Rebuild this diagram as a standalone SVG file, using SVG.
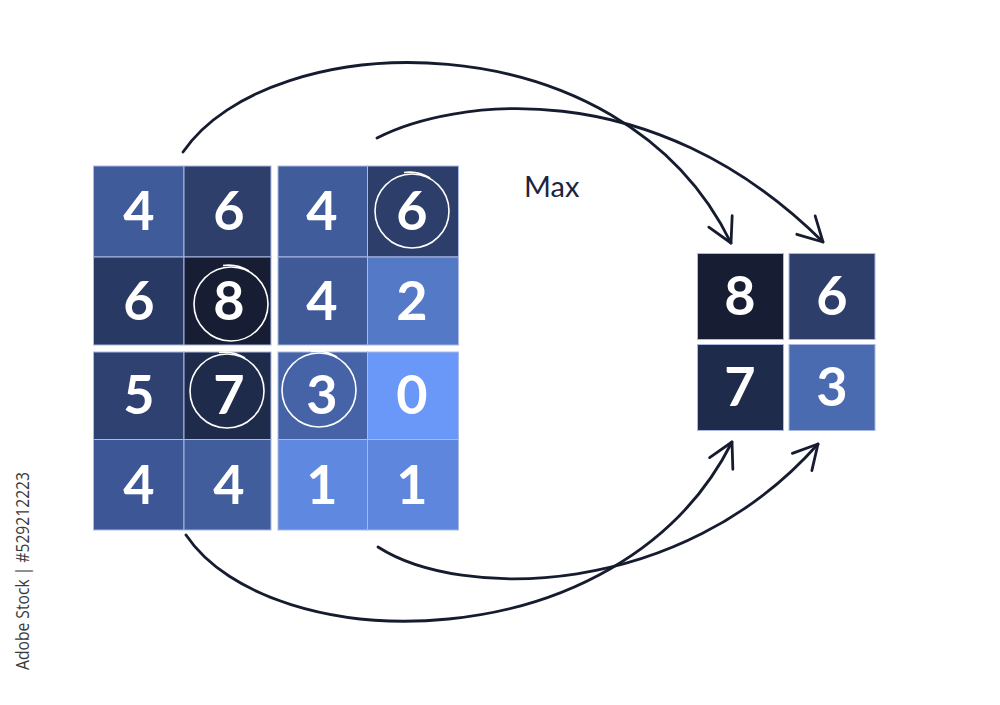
<svg xmlns="http://www.w3.org/2000/svg" width="1000" height="705" viewBox="0 0 1000 705">
<style>
.cell{stroke:#a9b9e3;stroke-width:1}
.num{font-family:Lato,"Open Sans",sans-serif;font-weight:700;font-size:54px;fill:#ffffff;text-anchor:middle}
.ring{fill:none;stroke:#ffffff;stroke-width:1.6}
.arrow{fill:none;stroke:#161c30;stroke-width:2.8;stroke-linecap:round}
.label{font-family:Lato,"Open Sans",sans-serif;font-size:29px;fill:#1c2440}
.wm{font-family:"Open Sans","DejaVu Sans",sans-serif;font-size:18.5px;fill:#3a3a3a}
</style>
<defs>
<marker id="head" viewBox="-30 -15 32 30" markerWidth="32" markerHeight="30" refX="0" refY="0" orient="auto" markerUnits="userSpaceOnUse">
<path d="M-24,-13 L0,0 L-24,13" fill="none" stroke="#161c30" stroke-width="2.8" stroke-linecap="round" stroke-linejoin="round"/>
</marker>
<g id="ring">
<circle r="37" class="ring"/>
<path d="M-8,-38.5 A39,39 0 0 1 18,-33" class="ring"/>
</g>
</defs>
<rect width="1000" height="705" fill="#ffffff"/>

<g id="input-grid">
<g id="c00"><rect class="cell" x="93.5" y="166" width="90.5" height="91" fill="#405b9a"/><text class="num" x="139" y="230">4</text></g>
<g id="c01"><rect class="cell" x="184" y="166" width="87" height="91" fill="#2d3f6a"/><text class="num" x="229" y="230">6</text></g>
<g id="c02"><rect class="cell" x="278" y="166" width="89.5" height="91" fill="#415c9b"/><text class="num" x="322" y="230">4</text></g>
<g id="c03"><rect class="cell" x="367.5" y="166" width="91" height="91" fill="#2c3e69"/><text class="num" x="412" y="230">6</text></g>

<g id="c10"><rect class="cell" x="93.5" y="257" width="90.5" height="88" fill="#283a63"/><text class="num" x="139" y="320">6</text></g>
<g id="c11"><rect class="cell" x="184" y="257" width="87" height="88" fill="#171e33"/><text class="num" x="229" y="320">8</text></g>
<g id="c12"><rect class="cell" x="278" y="257" width="89.5" height="88" fill="#405a97"/><text class="num" x="322" y="320">4</text></g>
<g id="c13"><rect class="cell" x="367.5" y="257" width="91" height="88" fill="#5379c7"/><text class="num" x="412" y="320">2</text></g>

<g id="c20"><rect class="cell" x="93.5" y="352" width="90.5" height="87.5" fill="#2e4170"/><text class="num" x="139" y="414">5</text></g>
<g id="c21"><rect class="cell" x="184" y="352" width="87" height="87.5" fill="#1f2b4a"/><text class="num" x="229" y="414">7</text></g>
<g id="c22"><rect class="cell" x="278" y="352" width="89.5" height="87.5" fill="#4563a6"/><text class="num" x="322" y="414">3</text></g>
<g id="c23"><rect class="cell" x="367.5" y="352" width="91" height="87.5" fill="#6a98f8"/><text class="num" x="412" y="414">0</text></g>

<g id="c30"><rect class="cell" x="93.5" y="439.5" width="90.5" height="90.5" fill="#3c5696"/><text class="num" x="139" y="504">4</text></g>
<g id="c31"><rect class="cell" x="184" y="439.5" width="87" height="90.5" fill="#415d9c"/><text class="num" x="229" y="504">4</text></g>
<g id="c32"><rect class="cell" x="278" y="439.5" width="89.5" height="90.5" fill="#5f89e0"/><text class="num" x="322" y="504">1</text></g>
<g id="c33"><rect class="cell" x="367.5" y="439.5" width="91" height="90.5" fill="#5d86dc"/><text class="num" x="412" y="504">1</text></g>
</g>

<g id="rings">
<use href="#ring" x="412" y="211"/>
<use href="#ring" x="231" y="304"/>
<use href="#ring" x="227" y="391"/>
<use href="#ring" x="319" y="390"/>
</g>

<g id="output-grid">
<g id="o00"><rect class="cell" x="697.5" y="253.5" width="86" height="86" fill="#171e33"/><text class="num" x="740" y="315">8</text></g>
<g id="o01"><rect class="cell" x="789" y="253.5" width="86" height="86" fill="#2c3e69"/><text class="num" x="832" y="315">6</text></g>
<g id="o10"><rect class="cell" x="697.5" y="344.5" width="86" height="86" fill="#1f2b4a"/><text class="num" x="740" y="406">7</text></g>
<g id="o11"><rect class="cell" x="789" y="344.5" width="86" height="86" fill="#4b6bb0"/><text class="num" x="832" y="406">3</text></g>
</g>

<g id="max-label"><text class="label" x="524" y="197">Max</text></g>

<g id="connectors">
<path class="arrow" marker-end="url(#head)" d="M183,152 C270,25 620,15 731,243"/>
<path class="arrow" marker-end="url(#head)" d="M377,138 C450,100 650,70 823,242"/>
<path class="arrow" marker-end="url(#head)" d="M186,535 C270,660 620,665 732,442"/>
<path class="arrow" marker-end="url(#head)" d="M378,547 C460,600 680,600 818,444"/>
</g>

<text class="wm" transform="translate(29,670) rotate(-90)" textLength="198" lengthAdjust="spacingAndGlyphs">Adobe Stock | #529212223</text>
</svg>
